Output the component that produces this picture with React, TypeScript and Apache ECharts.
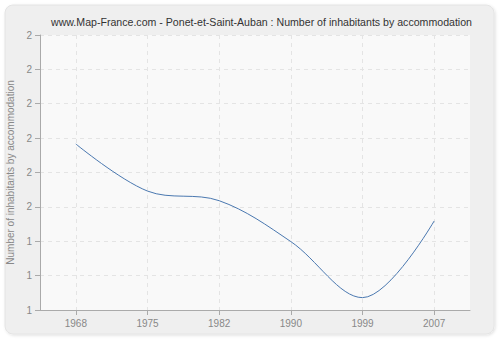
import React, { useEffect, useRef } from "react";
import * as echarts from "echarts";

const years = ["1968", "1975", "1982", "1990", "1999", "2007"];
const inhabitantsPerAccommodation = [1.683, 1.546, 1.518, 1.399, 1.236, 1.459];
const yTickLabels = ["1", "1", "1", "2", "2", "2", "2", "2", "2"];
const yMin = 1.2;
const yMax = 2.0;
const yStep = 0.1;

const FONT = "Liberation Sans, Arial, sans-serif";

export default function App() {
  const ref = useRef<HTMLDivElement>(null);
  useEffect(() => {
    if (!ref.current) return;
    const chart = echarts.init(ref.current, null, { renderer: "svg" });
    chart.setOption({
      animation: false,
      backgroundColor: "#ffffff",
      graphic: [
        {
          type: "rect",
          z: -10,
          shape: { x: 5, y: 5, width: 489, height: 329, r: 8 },
          style: { fill: "#efefef", stroke: "#e4e4e4", lineWidth: 1, shadowColor: "rgba(0,0,0,0.12)", shadowBlur: 3, shadowOffsetX: 1, shadowOffsetY: 1 },
        },
      ],
      title: {
        text: "www.Map-France.com - Ponet-et-Saint-Auban : Number of inhabitants by accommodation",
        left: 46,
        top: 11,
        textStyle: { fontSize: 10.6, fontWeight: "normal", color: "#333", fontFamily: FONT },
      },
      grid: {
        left: 40,
        right: 30,
        top: 35,
        bottom: 30,
        containLabel: false,
        outerBoundsMode: "none",
        show: true,
        backgroundColor: "#f9f9f9",
        borderWidth: 0,
      },
      xAxis: {
        type: "category",
        data: years,
        boundaryGap: true,
        axisLine: { show: true, lineStyle: { color: "#aaaaaa" } },
        axisTick: { show: true, alignWithLabel: true, length: 5, lineStyle: { color: "#aaaaaa" } },
        axisLabel: { color: "#888888", fontSize: 10, margin: 8, fontFamily: FONT },
        splitLine: { show: true, alignWithLabel: true, lineStyle: { color: "#e4e4e4", type: [4, 4] } },
      },
      yAxis: {
        type: "value",
        min: yMin,
        max: yMax,
        interval: yStep,
        name: "Number of inhabitants by accommodation",
        nameLocation: "middle",
        nameGap: 21,
        nameTextStyle: { color: "#888888", fontSize: 10, fontFamily: FONT },
        axisLine: { show: true, lineStyle: { color: "#aaaaaa" } },
        axisTick: { show: true, length: 5, lineStyle: { color: "#aaaaaa" } },
        axisLabel: {
          color: "#888888",
          fontSize: 10,
          margin: 8,
          fontFamily: FONT,
          formatter: (v: number) => yTickLabels[Math.round((v - yMin) / yStep)] ?? "",
        },
        splitLine: { show: true, lineStyle: { color: "#e4e4e4", type: [4, 4] } },
      },
      series: [
        {
          type: "line",
          data: inhabitantsPerAccommodation,
          smooth: 0.35,
          showSymbol: false,
          symbol: "none",
          lineStyle: { color: "#4a78b0", width: 1 },
        },
      ],
    });
    return () => chart.dispose();
  }, []);
  return <div ref={ref} style={{ position: "fixed", left: 0, top: 0, width: 500, height: 340 }} />;
}
